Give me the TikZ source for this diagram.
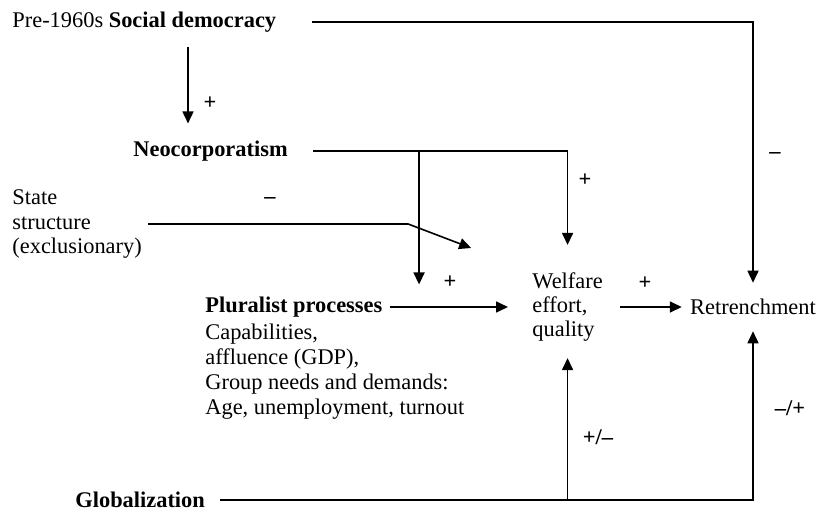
\documentclass[tikz,border=0pt]{standalone}
\usepackage{fontspec}
\setmainfont{Liberation Serif}
\usetikzlibrary{positioning,calc,arrows.meta}

\begin{document}
\begin{tikzpicture}[x=0.5pt,y=-0.5pt]
          \tikzstyle{every node}=[font=\fontsize{11.2pt}{12.2pt}\selectfont, inner sep=0pt]
          \tikzstyle{conn}=[line width=0.8pt, -{Triangle[length=6pt,width=5.5pt]}]
          \tikzstyle{sign}=[font=\fontsize{11.2pt}{12.2pt}\selectfont\bfseries]

      \useasboundingbox (0,0) rectangle (824,514);

      \node[anchor=west] (socdem) at (12,22) {Pre-1960s \textbf{Social democracy}};
      \node[anchor=west] (neocorp) at (133,151) {\textbf{Neocorporatism}};
      \node[anchor=west, align=left] (state) at (12,224) {State\\structure\\(exclusionary)};
      \node[anchor=west] (plural) at (205,307) {\textbf{Pluralist processes}};
      \node[below=3pt of plural.south west, anchor=north west, align=left, font=\fontsize{11.2pt}{12.5pt}\selectfont] (needs)
            {Capabilities,\\affluence (GDP),\\Group needs and demands:\\Age, unemployment, turnout};
      \node[anchor=west, align=left] (welfare) at (532,307) {Welfare\\effort,\\quality};
      \node[inner ysep=8pt] (retrench) at (753,307) {Retrenchment};
      \node[anchor=west] (global) at (75,500) {\textbf{Globalization}};

      \coordinate (sdown) at ($(neocorp.north west)+(55,0)$);
      \coordinate (nsplit) at ([xshift=65.5pt]neocorp.east);

      \draw[conn, shorten <=7pt, shorten >=8.5pt] (sdown |- socdem.south) -- (sdown);
      \draw[conn] ([xshift=17.5pt]socdem.east) -| (retrench.north);
      \draw[conn] ([xshift=12.5pt]neocorp.east) -| ([yshift=13.5pt]welfare.north);
      \draw[conn, shorten >=6pt] (nsplit) -- (nsplit |- plural.north);
      \draw[conn] ([xshift=3pt]state.east) -- ++(130pt,0pt) -- ++(31.5pt,-12pt);
      \draw[conn] ([xshift=3.5pt]plural.east) -- ([xshift=-12pt]welfare.west);
      \draw[conn] ([xshift=8.5pt]welfare.east) -- ([xshift=-4pt]retrench.west);
      \draw[conn] ([xshift=7.5pt]global.east) -| (retrench.south);
      \draw[conn] (welfare.south |- global.east) -- ([yshift=-8pt]welfare.south);

      \node[sign] (p1) at (210,103) {+};
      \node[sign] (m1) at (270,200) {--};
      \node[sign] (p2) at (585,180) {+};
      \node[sign] (m2) at (775,155) {--};
      \node[sign] (p3) at (450,282) {+};
      \node[sign] (p4) at (645,283) {+};
      \node[sign] (pm) at (598,437) {+/--};
      \node[sign] (mp) at (790,408) {--/+};

\end{tikzpicture}
\end{document}
